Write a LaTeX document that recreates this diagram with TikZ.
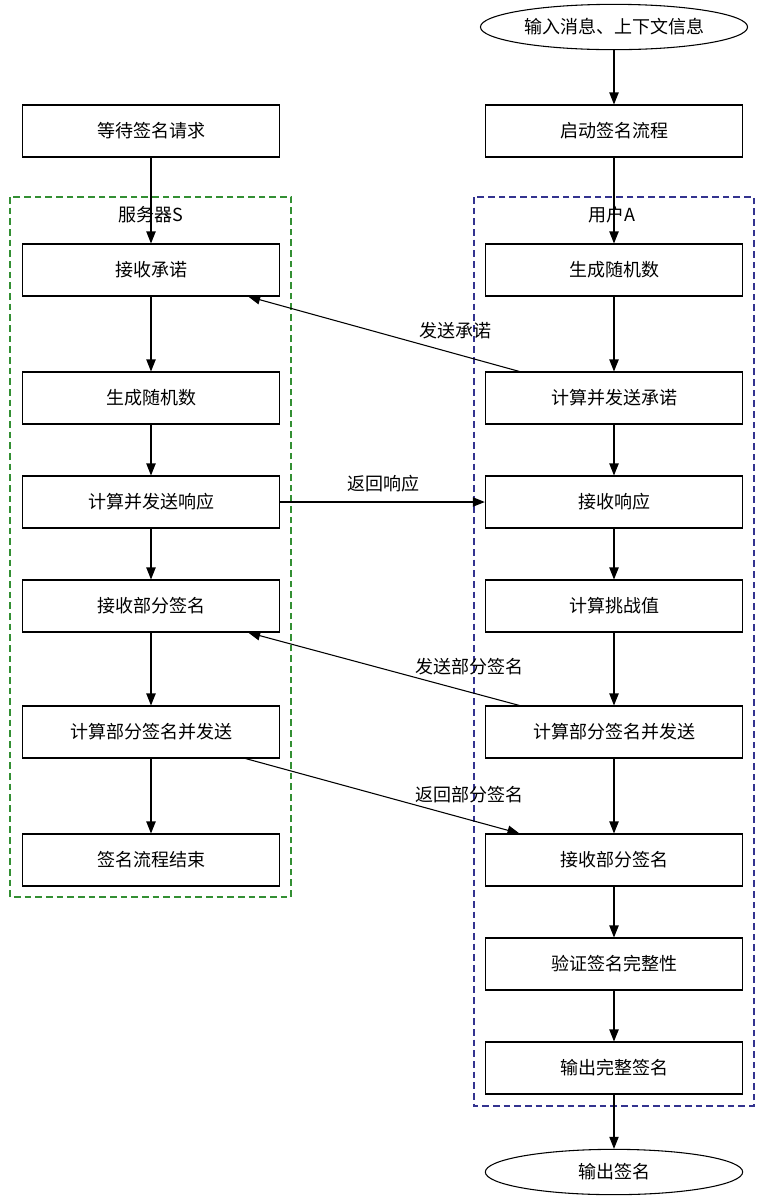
\documentclass[tikz,border=0pt]{standalone}
\usepackage{fontspec}
\setmainfont{Liberation Serif}
\newfontfamily\cjk{Noto Sans CJK SC}
\usetikzlibrary{positioning,arrows.meta,shapes.geometric}

\tikzset{
  box/.style = {draw, thick, shape = rectangle, minimum width = 193pt, minimum height = 39pt, font = \cjk\fontsize{13.5}{16}\selectfont},
  term/.style = {draw, thick, shape = ellipse, minimum width = 193pt, minimum height = 34pt, font = \cjk\fontsize{13.5}{16}\selectfont},
  flow/.style = {-{Triangle[length=9pt,width=7pt]}, thick},
  note/.style = {font = \cjk\fontsize{13.5}{16}\selectfont},
  group/.style = {dash pattern = on 5pt off 3pt, thick}
}

\begin{document}
\begin{tikzpicture}[x=0.75pt, y=-0.75pt]
\useasboundingbox (0,0) rectangle (770,1204);
% groups
\draw[group, green!45!black!80] (10,197) rectangle (291,897);
\draw[group, blue!45!black!80] (474,197) rectangle (754,1106);
\node[note] (srv) at (151,215) {服务器S};
\node[note] (usr) at (612,215) {用户A};
% server column
\node[box] (s0) at (151,131) {等待签名请求};
\node[box] (s1) at (151,270) {接收承诺};
\node[box] (s2) at (151,398) {生成随机数};
\node[box] (s3) at (151,502) {计算并发送响应};
\node[box] (s4) at (151,606) {接收部分签名};
\node[box] (s5) at (151,732) {计算部分签名并发送};
\node[box] (s6) at (151,860) {签名流程结束};
% user column
\node[term] (u0) at (614,27) {输入消息、上下文信息};
\node[box] (u1) at (614,131) {启动签名流程};
\node[box] (u2) at (614,270) {生成随机数};
\node[box] (u3) at (614,398) {计算并发送承诺};
\node[box] (u4) at (614,502) {接收响应};
\node[box] (u5) at (614,606) {计算挑战值};
\node[box] (u6) at (614,732) {计算部分签名并发送};
\node[box] (u7) at (614,860) {接收部分签名};
\node[box] (u8) at (614,964) {验证签名完整性};
\node[box] (u9) at (614,1068) {输出完整签名};
\node[term] (u10) at (614,1172) {输出签名};
\foreach \a/\b in {s0/s1,s1/s2,s2/s3,s3/s4,s4/s5,s5/s6,u0/u1,u1/u2,u2/u3,u3/u4,u4/u5,u5/u6,u6/u7,u7/u8,u8/u9,u9/u10}
  \draw[flow] (\a) -- (\b);
% messages
\draw[flow] ([xshift=26pt]u3.north west) -- ([xshift=-24pt]s1.south east);
\node[note] at (455,331) {发送承诺};
\draw[flow] (s3) -- (u4);
\node[note] at (383,484) {返回响应};
\draw[flow] ([xshift=26pt]u6.north west) -- ([xshift=-24pt]s4.south east);
\node[note] at (469,667) {发送部分签名};
\draw[flow] ([xshift=-26pt]s5.south east) -- ([xshift=26pt]u7.north west);
\node[note] at (469,795) {返回部分签名};
\end{tikzpicture}
\end{document}
